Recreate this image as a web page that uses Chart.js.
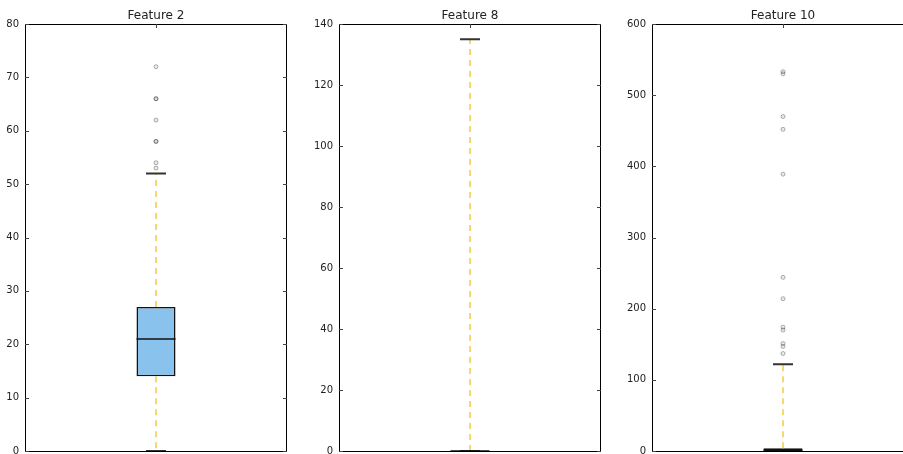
<!DOCTYPE html>
<html>
<head>
<meta charset="utf-8">
<script src="https://cdn.jsdelivr.net/npm/chart.js@4/dist/chart.umd.min.js"></script>
<style>
  html, body { margin: 0; padding: 0; background: #fff; }
  #wrap { position: relative; width: 903px; height: 454px; overflow: hidden; }
  #wrap canvas { position: absolute; top: 0; }
</style>
</head>
<body>
<div id="wrap">
  <canvas id="c0" height="480"></canvas>
  <canvas id="c1" height="480"></canvas>
  <canvas id="c2" height="480"></canvas>
</div>
<script>
// box plot summaries
const features = ['Feature 2', 'Feature 8', 'Feature 10'];
const lowerWhisker = [0, 0, 0];
const q1 = [14, 0, 0];
const median = [21, 0, 1];
const q3 = [27, 0, 4];
const upperWhisker = [52, 135, 122];
const outliers = [
  [72, 66, 66, 62, 58, 58, 54, 53],
  [],
  [533, 530, 470, 452, 389, 244, 214, 174, 170, 151, 147, 137]
];
const yMax = [80, 140, 600];
const yStep = [10, 20, 100];

// where each panel sits on the page
const canvasLeft = [0, 299, 612];
const axisWidth = [25, 40, 40];
const plotWidth = 262;

const boxPlotExtras = {
  id: 'boxPlotExtras',
  afterDatasetsDraw(chart, args, opts) {
    const ctx = chart.ctx;
    const x = chart.scales.x.getPixelForValue(0);
    const y = chart.scales.y;
    const i = opts.idx;
    ctx.save();
    // whiskers
    ctx.strokeStyle = '#f6d86c';
    ctx.lineWidth = 2;
    ctx.setLineDash([6, 5]);
    ctx.beginPath();
    ctx.moveTo(x, y.getPixelForValue(q3[i]));
    ctx.lineTo(x, y.getPixelForValue(upperWhisker[i]));
    ctx.moveTo(x, y.getPixelForValue(q1[i]));
    ctx.lineTo(x, y.getPixelForValue(lowerWhisker[i]));
    ctx.stroke();
    ctx.setLineDash([]);
    // caps
    ctx.strokeStyle = '#333';
    ctx.lineWidth = 2;
    ctx.beginPath();
    [upperWhisker[i], lowerWhisker[i]].forEach(v => {
      const py = y.getPixelForValue(v);
      ctx.moveTo(x - 10, py);
      ctx.lineTo(x + 10, py);
    });
    ctx.stroke();
    // median
    const box = chart.getDatasetMeta(0).data[0];
    const half = box.width / 2;
    ctx.strokeStyle = '#111';
    ctx.lineWidth = 1.5;
    ctx.beginPath();
    const my = y.getPixelForValue(median[i]);
    ctx.moveTo(x - half, my);
    ctx.lineTo(x + half, my);
    ctx.stroke();
    ctx.restore();
  },
  afterDraw(chart) {
    const ctx = chart.ctx;
    const a = chart.chartArea;
    const y = chart.scales.y;
    const x = chart.scales.x.getPixelForValue(0);
    ctx.save();
    ctx.strokeStyle = '#000';
    ctx.lineWidth = 1;
    ctx.strokeRect(a.left + 0.5, a.top + 0.5, a.right - a.left - 1, a.bottom - a.top);
    ctx.strokeStyle = '#444';
    ctx.beginPath();
    y.ticks.forEach(t => {
      const py = Math.round(y.getPixelForValue(t.value)) + 0.5;
      ctx.moveTo(a.left, py);
      ctx.lineTo(a.left + 4, py);
      ctx.moveTo(a.right, py);
      ctx.lineTo(a.right - 4, py);
    });
    ctx.moveTo(Math.round(x) + 0.5, a.top);
    ctx.lineTo(Math.round(x) + 0.5, a.top + 4);
    ctx.stroke();
    ctx.restore();
  }
};

features.forEach((name, i) => {
  const canvas = document.getElementById('c' + i);
  canvas.width = axisWidth[i] + plotWidth;
  canvas.style.left = canvasLeft[i] + 'px';
  new Chart(canvas, {
    type: 'bar',
    data: {
      labels: [name],
      datasets: [{
        data: [[q1[i], q3[i]]],
        backgroundColor: 'rgb(137,194,236)',
        borderColor: '#111',
        borderWidth: 1.5,
        borderSkipped: false,
        categoryPercentage: 1,
        barPercentage: 0.149
      }, {
        type: 'line',
        data: outliers[i].map(v => ({x: name, y: v})),
        showLine: false,
        pointStyle: 'circle',
        pointRadius: 2,
        pointBorderWidth: 1,
        pointBorderColor: 'rgba(0,0,0,0.3)',
        pointBackgroundColor: 'rgba(0,0,0,0.08)'
      }]
    },
    options: {
      responsive: false,
      animation: false,
      layout: {autoPadding: false, padding: {top: 0, right: 0, bottom: 29, left: 0}},
      plugins: {
        legend: {display: false},
        tooltip: {enabled: false},
        title: {
          display: true,
          text: name,
          fullSize: false,
          color: '#222',
          font: {family: 'DejaVu Sans', size: 12, weight: 'normal', lineHeight: 1.2},
          padding: {top: 9, bottom: 0.6}
        },
        boxPlotExtras: {idx: i}
      },
      scales: {
        x: {display: false},
        y: {
          min: 0,
          max: yMax[i],
          afterFit: s => { s.width = axisWidth[i]; },
          grid: {display: false, drawTicks: false},
          border: {display: false},
          ticks: {
            stepSize: yStep[i],
            padding: 6,
            color: '#222',
            font: {family: 'DejaVu Sans', size: 10}
          }
        }
      }
    },
    plugins: [boxPlotExtras]
  });
});
</script>
</body>
</html>
